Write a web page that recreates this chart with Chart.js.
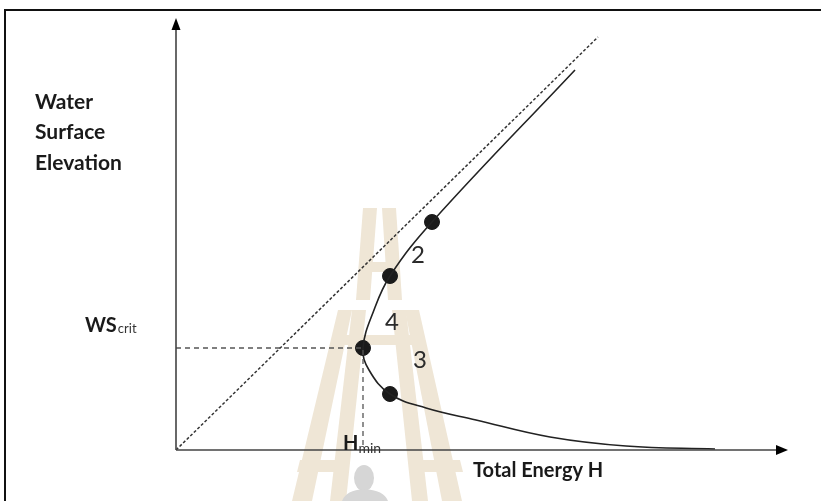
<!DOCTYPE html>
<html>
<head>
<meta charset="utf-8">
<script src="https://cdn.jsdelivr.net/npm/chart.js@4.4.0/dist/chart.umd.min.js"></script>
<style>
html,body{margin:0;padding:0;background:#fff;}
#wrap{position:relative;width:821px;height:501px;}
canvas{display:block;}
</style>
</head>
<body>
<div id="wrap"><canvas id="c" width="821" height="501"></canvas></div>
<script>
// ---- data (total energy H vs water surface elevation, arbitrary units) ----
const diagonalX = [0, 422];
const diagonalY = [0, 413];
const curveX = [399, 256, 214, 198, 187, 193, 214, 250, 300, 374, 450, 539];
const curveY = [380, 228, 174, 140, 102, 80, 56, 42, 30, 13, 4, 1];
const pointX = [256, 214, 187, 214];
const pointY = [228, 174, 102, 56];
const critWS = 102;
const hMin = 187;
const regionLabels = ['2', '4', '3'];
const regionLabelX = [242, 216, 244];
const regionLabelY = [195, 128, 90];

const toXY = (xs, ys) => xs.map((x, i) => ({x: x, y: ys[i]}));

const decor = {
  id: 'decor',
  beforeDatasetsDraw(chart) {
    const ctx = chart.ctx;
    ctx.save();
    // watermark (light tan towers + grey figure)
    ctx.fillStyle = '#efe6d6';
    const polys = [
      [[363,208],[377,208],[370,300],[356,300]],
      [[382,208],[396,208],[402,300],[388,300]],
      [[362,262],[396,262],[397,272],[361,272]],
      [[338,310],[352,310],[312,501],[292,501]],
      [[405,310],[419,310],[462,501],[442,501]],
      [[352,310],[366,310],[346,501],[330,501]],
      [[392,310],[406,310],[428,501],[412,501]],
      [[343,335],[416,335],[418,345],[341,345]],
      [[300,460],[345,460],[343,472],[297,472]],
      [[420,460],[460,460],[463,472],[422,472]]
    ];
    polys.forEach(p => {
      ctx.beginPath();
      ctx.moveTo(p[0][0], p[0][1]);
      for (let i = 1; i < p.length; i++) ctx.lineTo(p[i][0], p[i][1]);
      ctx.closePath();
      ctx.fill();
    });
    ctx.fillStyle = '#d6d6d6';
    ctx.beginPath();
    ctx.ellipse(364, 478, 10, 13, 0, 0, Math.PI * 2);
    ctx.fill();
    ctx.beginPath();
    ctx.moveTo(342, 501);
    ctx.quadraticCurveTo(346, 490, 364, 489);
    ctx.quadraticCurveTo(384, 490, 388, 501);
    ctx.closePath();
    ctx.fill();
    ctx.restore();
  },
  afterDraw(chart) {
    const ctx = chart.ctx;
    const xs = chart.scales.x, ys = chart.scales.y;
    const ox = xs.getPixelForValue(0), oy = ys.getPixelForValue(0);
    const xEnd = xs.getPixelForValue(xs.max), yEnd = ys.getPixelForValue(ys.max);
    ctx.save();
    // frame
    ctx.strokeStyle = '#111';
    ctx.lineWidth = 2;
    ctx.strokeRect(5, 10, 830, 520);
    // axes
    ctx.strokeStyle = '#444';
    ctx.lineWidth = 1.6;
    ctx.beginPath();
    ctx.moveTo(ox, oy); ctx.lineTo(ox, yEnd + 8);
    ctx.moveTo(ox, oy); ctx.lineTo(xEnd - 8, oy);
    ctx.stroke();
    ctx.fillStyle = '#000';
    ctx.beginPath();
    ctx.moveTo(ox, yEnd); ctx.lineTo(ox - 4.5, yEnd + 12); ctx.lineTo(ox + 4.5, yEnd + 12); ctx.closePath();
    ctx.fill();
    ctx.beginPath();
    ctx.moveTo(xEnd, oy); ctx.lineTo(xEnd - 12, oy - 5); ctx.lineTo(xEnd - 12, oy + 5); ctx.closePath();
    ctx.fill();
    // texts
    ctx.fillStyle = '#1a1a1a';
    ctx.textBaseline = 'alphabetic';
    ctx.textAlign = 'left';
    ctx.font = 'bold 21px Lato';
    ctx.fillText('Water', 35, 109);
    ctx.fillText('Surface', 35, 139);
    ctx.fillText('Elevation', 35, 170);
    // WS crit
    const yc = ys.getPixelForValue(critWS);
    ctx.font = 'bold 20px Lato';
    ctx.fillText('WS', 85, yc - 16);
    let w = ctx.measureText('WS').width;
    ctx.font = '13px Lato';
    ctx.fillStyle = '#333';
    ctx.fillText('crit', 85 + w + 1, yc - 15);
    // H min
    const xh = xs.getPixelForValue(hMin);
    ctx.fillStyle = '#1a1a1a';
    ctx.font = 'bold 20px Lato';
    ctx.fillText('H', xh - 20, oy);
    w = ctx.measureText('H').width;
    ctx.font = '14px Lato';
    ctx.fillStyle = '#333';
    ctx.fillText('min', xh - 20 + w, oy + 3);
    // axis title
    ctx.fillStyle = '#1a1a1a';
    ctx.font = 'bold 20px Lato';
    ctx.fillText('Total Energy H', 473, 477);
    // region labels
    ctx.fillStyle = '#2b2b2b';
    ctx.font = '24px Lato';
    ctx.textAlign = 'center';
    ctx.textBaseline = 'middle';
    regionLabels.forEach((t, i) => {
      ctx.fillText(t, xs.getPixelForValue(regionLabelX[i]), ys.getPixelForValue(regionLabelY[i]));
    });
    ctx.restore();
  }
};

new Chart(document.getElementById('c'), {
  type: 'scatter',
  data: {
    datasets: [
      {
        data: toXY(diagonalX, diagonalY),
        showLine: true,
        borderColor: '#333',
        borderWidth: 1.5,
        borderDash: [3, 2],
        pointRadius: 0
      },
      {
        data: [{x: 0, y: critWS}, {x: hMin, y: critWS}, {x: hMin, y: 0}],
        showLine: true,
        borderColor: '#555',
        borderWidth: 1.3,
        borderDash: [5, 4],
        pointRadius: 0
      },
      {
        data: toXY(curveX, curveY),
        showLine: true,
        borderColor: '#222',
        borderWidth: 1.6,
        tension: 0.4,
        pointRadius: 0
      },
      {
        data: toXY(pointX, pointY),
        showLine: false,
        pointRadius: 7.5,
        pointBackgroundColor: '#1a1a1a',
        pointBorderColor: '#1a1a1a'
      }
    ]
  },
  options: {
    responsive: false,
    animation: false,
    events: [],
    layout: {padding: {left: 176, right: 33, top: 18, bottom: 51}},
    plugins: {legend: {display: false}, tooltip: {enabled: false}},
    scales: {
      x: {type: 'linear', min: 0, max: 612, display: false},
      y: {type: 'linear', min: 0, max: 432, display: false}
    }
  },
  plugins: [decor]
});
</script>
</body>
</html>
